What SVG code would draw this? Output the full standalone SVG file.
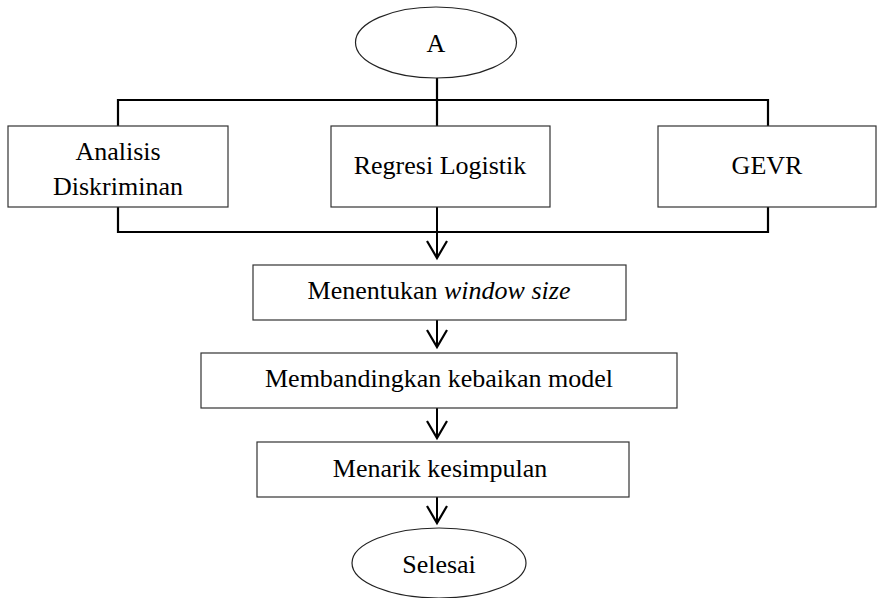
<svg xmlns="http://www.w3.org/2000/svg" width="877" height="598" viewBox="0 0 877 598">
  <style>
    .box { fill: #ffffff; stroke: #333333; stroke-width: 1.2; }
    .term { fill: #ffffff; stroke: #222222; stroke-width: 1.2; }
    .lbl { font-family: "Liberation Serif", "Times New Roman", serif; font-size: 26px; fill: #000000; text-anchor: middle; }
    .wire { fill: none; stroke: #000000; stroke-width: 2.2; }
    .flow { fill: none; stroke: #000000; stroke-width: 2; marker-end: url(#vhead); }
  </style>
  <defs>
    <marker id="vhead" markerUnits="userSpaceOnUse" viewBox="-20 -12 22 24" refX="0" refY="0" markerWidth="22" markerHeight="24" orient="auto" overflow="visible">
      <path d="M-17,-10 L0,0 L-17,10" fill="none" stroke="#000000" stroke-width="2.2" stroke-linejoin="miter"/>
    </marker>
  </defs>

  <rect width="877" height="598" fill="#ffffff"/>

  <!-- connectors -->
  <g id="connectors">
    <!-- split from A into the three methods -->
    <path class="wire" d="M437,78 V126"/>
    <path class="wire" d="M118,126 V100 H768 V126"/>
    <!-- merge of the three methods -->
    <path class="wire" d="M118,207 V232 H768 V207"/>
    <path class="flow" d="M437,207 V258"/>
    <path class="flow" d="M437,320 V347"/>
    <path class="flow" d="M437,408 V438"/>
    <path class="flow" d="M437,497 V523"/>
  </g>

  <g id="start">
    <ellipse class="term" cx="436" cy="42.5" rx="80.5" ry="35.5"/>
    <text class="lbl" x="436" y="52">A</text>
  </g>

  <g id="analisis-diskriminan">
    <rect class="box" x="8" y="126" width="220" height="81"/>
    <text class="lbl" x="118" y="160">Analisis</text>
    <text class="lbl" x="118" y="195">Diskriminan</text>
  </g>

  <g id="regresi-logistik">
    <rect class="box" x="331" y="126" width="219" height="81"/>
    <text class="lbl" x="440" y="174">Regresi Logistik</text>
  </g>

  <g id="gevr">
    <rect class="box" x="658" y="126" width="218" height="81"/>
    <text class="lbl" x="767" y="174">GEVR</text>
  </g>

  <g id="window-size">
    <rect class="box" x="253" y="265" width="373" height="55"/>
    <text class="lbl" x="439" y="299">Menentukan <tspan font-style="italic">window size</tspan></text>
  </g>

  <g id="membandingkan">
    <rect class="box" x="201" y="353" width="476" height="55"/>
    <text class="lbl" x="439" y="387">Membandingkan kebaikan model</text>
  </g>

  <g id="menarik">
    <rect class="box" x="257" y="442" width="372" height="55"/>
    <text class="lbl" x="440" y="477">Menarik kesimpulan</text>
  </g>

  <g id="selesai">
    <ellipse class="term" cx="439" cy="563" rx="87" ry="35"/>
    <text class="lbl" x="439" y="573">Selesai</text>
  </g>
</svg>
